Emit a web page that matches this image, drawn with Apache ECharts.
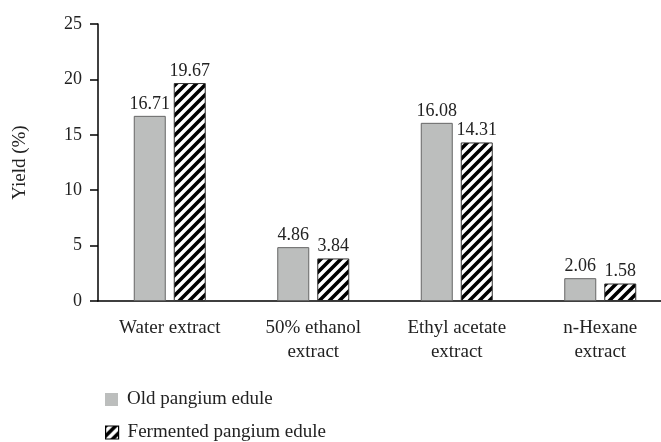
<!DOCTYPE html>
<html><head><meta charset="utf-8">
<script src="https://cdn.jsdelivr.net/npm/echarts@6/dist/echarts.min.js"></script>
<style>html,body{margin:0;padding:0;background:#fff}#c{width:661px;height:442px}</style>
</head><body><div id="c"></div>
<script>
const categories = ['Water extract', '50% ethanol\nextract', 'Ethyl acetate\nextract', 'n-Hexane\nextract'];
const oldValues = [16.71, 4.86, 16.08, 2.06];
const fermentedValues = [19.67, 3.84, 14.31, 1.58];
const seriesNames = ['Old pangium edule', 'Fermented pangium edule'];
const yTicks = [0, 5, 10, 15, 20, 25];

function hatch() {
  const s = 10;
  const c = document.createElement('canvas');
  c.width = s; c.height = s;
  const g = c.getContext('2d');
  g.fillStyle = '#fff'; g.fillRect(0, 0, s, s);
  g.strokeStyle = '#000'; g.lineWidth = 3.6;
  g.beginPath();
  for (let k = -1; k <= 1; k++) {
    g.moveTo(-2 + k * s, s + 2); g.lineTo(s + 2 + k * s, -2);
  }
  g.stroke();
  return c;
}
const pat = { image: hatch(), repeat: 'repeat' };
const font = 'Liberation Serif';
const txt = '#222';
const chart = echarts.init(document.getElementById('c'));
chart.setOption({
  animation: false,
  textStyle: { fontFamily: font },
  grid: { left: 98, width: 574, top: 24, bottom: 141, containLabel: false, outerBoundsMode: 'none' },
  legend: [
    {
      left: 100, top: 385, itemWidth: 13, itemHeight: 13, icon: 'rect',
      itemStyle: { borderWidth: 0 },
      textStyle: { fontFamily: font, fontSize: 19, color: txt, padding: [0, 0, 0, 4] },
      data: [seriesNames[0]]
    },
    {
      left: 100, top: 418, itemWidth: 13, itemHeight: 13, icon: 'rect',
      itemStyle: { borderWidth: 1.2, borderColor: '#000' },
      textStyle: { fontFamily: font, fontSize: 19, color: txt, padding: [0, 0, 0, 4] },
      data: [seriesNames[1]]
    }
  ],
  xAxis: {
    type: 'category', data: categories,
    axisLine: { lineStyle: { color: '#000', width: 1.5 } },
    axisTick: { alignWithLabel: true, length: 7, lineStyle: { color: '#000', width: 1.5 } },
    axisLabel: { fontFamily: font, fontSize: 19, color: txt, margin: 15, lineHeight: 24, interval: 0 }
  },
  yAxis: {
    type: 'value', min: yTicks[0], max: yTicks[yTicks.length - 1], interval: 5,
    name: 'Yield (%)', nameLocation: 'middle', nameGap: 68, nameRotate: 90,
    nameTextStyle: { fontFamily: font, fontSize: 19, color: txt },
    axisLine: { show: true, lineStyle: { color: '#000', width: 1.5 } },
    axisTick: { show: true, length: 8, lineStyle: { color: '#000', width: 1.5 } },
    splitLine: { show: false },
    axisLabel: { fontFamily: font, fontSize: 18, color: txt, margin: 16 }
  },
  series: [
    {
      name: seriesNames[0], type: 'bar', data: oldValues, barWidth: 32, barGap: '25%',
      itemStyle: { color: '#bcbebd', borderColor: '#666', borderWidth: 1 },
      label: { show: true, position: 'top', distance: 3, fontFamily: font, fontSize: 18, color: txt }
    },
    {
      name: seriesNames[1], type: 'bar', data: fermentedValues, barWidth: 32,
      itemStyle: { color: pat, borderColor: '#333', borderWidth: 1 },
      label: { show: true, position: 'top', distance: 3, fontFamily: font, fontSize: 18, color: txt }
    }
  ]
});
</script></body></html>
